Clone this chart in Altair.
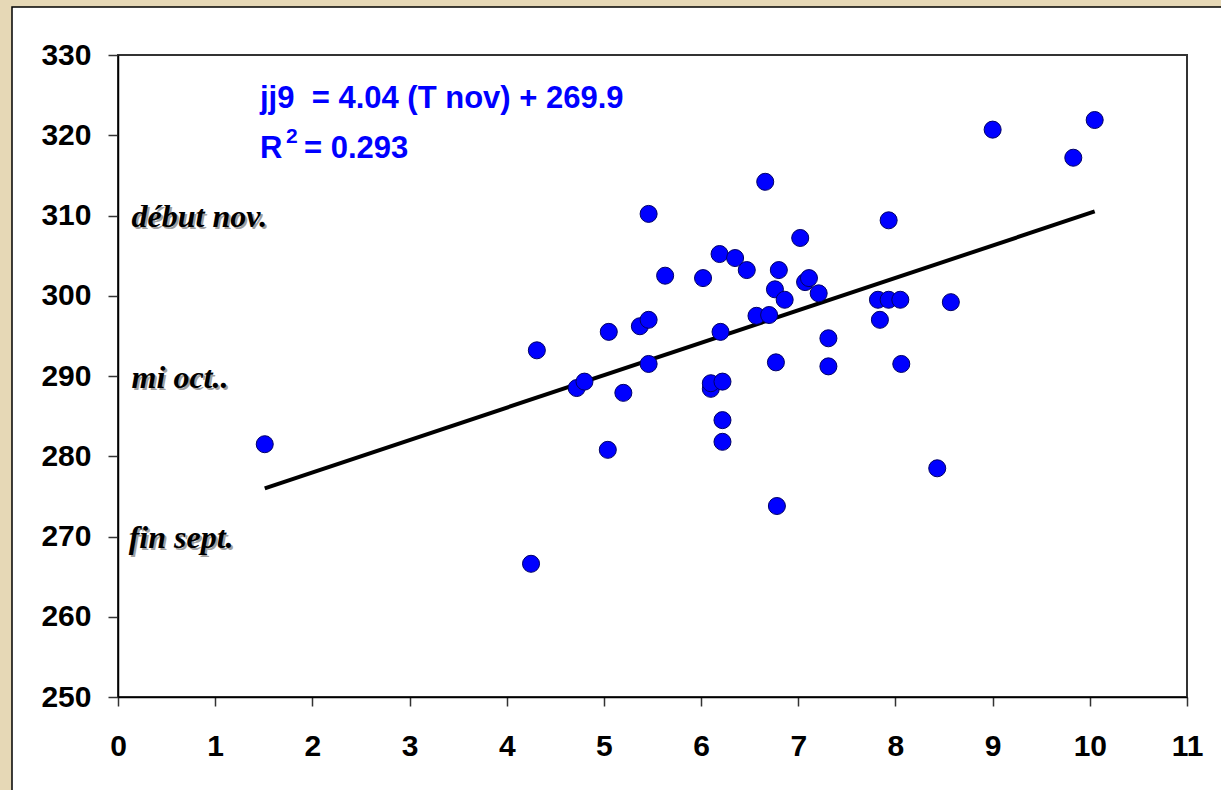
import altair as alt
import pandas as pd

# Data
t_nov = [1.51, 4.25, 4.31, 4.72, 4.80, 5.05, 5.04, 5.20, 5.37, 5.46, 5.46, 5.46, 5.63, 6.02, 6.10,
         6.10, 6.22, 6.20, 6.19, 6.22, 6.22, 6.35, 6.47, 6.66, 6.57, 6.70, 6.76, 6.77, 6.78, 6.80,
         6.86, 7.02, 7.07, 7.11, 7.21, 7.31, 7.31, 7.82, 7.84, 7.93, 7.93, 8.05, 8.06, 8.43, 8.57,
         9.00, 9.83, 10.05]
jj9 = [281.5, 266.6, 293.2, 288.5, 289.3, 295.5, 280.8, 287.9, 296.2, 297.0, 291.5, 310.2, 302.5,
       302.2, 288.4, 289.1, 289.3, 295.5, 305.2, 284.5, 281.8, 304.7, 303.2, 314.2, 297.5, 297.6,
       300.8, 291.7, 273.8, 303.2, 299.5, 307.2, 301.7, 302.2, 300.3, 294.7, 291.2, 299.5, 297.0,
       299.5, 309.4, 299.5, 291.5, 278.5, 299.2, 320.7, 317.2, 321.9]
slope = 4.04
intercept = 269.9
period_labels = ["début nov.", "mi oct..", "fin sept."]
period_y = [308.6, 288.5, 268.6]
period_x = [0.14, 0.14, 0.11]
x_ticks = [i * 0.5 for i in range(23)]
y_ticks = list(range(250, 331, 10))

W, H = 1069, 642
LEFT, TOP = 118, 55

pts = pd.DataFrame({"T": t_nov, "jj9": jj9})
xmin, xmax = min(t_nov), max(t_nov)
line_df = pd.DataFrame({"T": [xmin, xmax], "jj9": [slope * xmin + intercept, slope * xmax + intercept]})
lab_df = pd.DataFrame({"T": period_x, "jj9": period_y, "txt": period_labels})

xscale = alt.Scale(domain=[0, 11], nice=False, zero=False)
yscale = alt.Scale(domain=[250, 330], nice=False, zero=False)

xaxis = alt.Axis(values=x_ticks, format="d",
                 labelExpr="datum.value % 1 == 0 ? datum.label : ''",
                 title=None, grid=False, tickSize=9, labelPadding=25, labelFontSize=30,
                 labelFontWeight="bold", labelFont="Liberation Sans", labelColor="black",
                 domainColor="black", domainWidth=1.5, tickColor="#333", tickWidth=1.5,
                 labelFlush=False, labelOverlap=False, zindex=1)
yaxis = alt.Axis(values=y_ticks, title=None, grid=False, tickSize=10, labelPadding=17,
                 labelFontSize=30, labelFontWeight="bold", labelFont="Liberation Sans",
                 labelColor="black", domainColor="black", domainWidth=1.5, tickColor="#333",
                 tickWidth=1.5, labelFlush=False, labelOverlap=False, zindex=1)

# white card behind everything (decoration)
card = alt.Chart(pd.DataFrame({"a": [0]})).mark_rect(
    fill="white", stroke="black", strokeWidth=1.5, clip=False
).encode(x=alt.value(12 - LEFT), x2=alt.value(1221 - LEFT + 20),
         y=alt.value(7 - TOP), y2=alt.value(790 - TOP + 20))

frame = alt.Chart(pd.DataFrame({"a": [0]})).mark_rect(
    fill=None, stroke="#333", strokeWidth=2
).encode(x=alt.value(0), x2=alt.value(W), y=alt.value(0), y2=alt.value(H))

line = alt.Chart(line_df).mark_line(color="black", strokeWidth=4).encode(
    x=alt.X("T:Q", scale=xscale, axis=xaxis),
    y=alt.Y("jj9:Q", scale=yscale, axis=yaxis),
)

points = alt.Chart(pts).mark_point(
    shape="circle", filled=True, fill="#0000ff", stroke="#000066", strokeWidth=1,
    size=290, opacity=1
).encode(x=alt.X("T:Q", scale=xscale), y=alt.Y("jj9:Q", scale=yscale))

shadow = alt.Chart(lab_df).mark_text(
    align="left", baseline="alphabetic", font="Liberation Serif", fontSize=32,
    fontStyle="italic", fontWeight="bold", color="#a0a0a0", dx=2, dy=2
).encode(x=alt.X("T:Q", scale=xscale), y=alt.Y("jj9:Q", scale=yscale), text="txt:N")
labels = alt.Chart(lab_df).mark_text(
    align="left", baseline="alphabetic", font="Liberation Serif", fontSize=32,
    fontStyle="italic", fontWeight="bold", color="black"
).encode(x=alt.X("T:Q", scale=xscale), y=alt.Y("jj9:Q", scale=yscale), text="txt:N")

eq_style = dict(align="left", baseline="alphabetic", font="Liberation Sans",
                fontWeight="bold", color="#0000ff")
one = pd.DataFrame({"a": [0]})
eq1 = alt.Chart(one).mark_text(fontSize=31, text="jj9\u00a0 = 4.04 (T nov) + 269.9", **eq_style).encode(
    x=alt.value(260 - LEFT), y=alt.value(108 - TOP))
eq2 = alt.Chart(one).mark_text(fontSize=31, text="R", **eq_style).encode(
    x=alt.value(260 - LEFT), y=alt.value(158 - TOP))
eq3 = alt.Chart(one).mark_text(fontSize=21, text="2", **eq_style).encode(
    x=alt.value(286 - LEFT), y=alt.value(143 - TOP))
eq4 = alt.Chart(one).mark_text(fontSize=31, text="= 0.293", **eq_style).encode(
    x=alt.value(304 - LEFT), y=alt.value(158 - TOP))

chart = alt.layer(card, frame, line, points, shadow, labels, eq1, eq2, eq3, eq4).properties(
    width=W, height=H,
    autosize=alt.AutoSizeParams(type="none"),
    padding={"left": LEFT, "top": TOP, "right": 1221 - LEFT - W, "bottom": 790 - TOP - H},
    background="#e6d8b6",
).configure_view(stroke=None)

chart.save("out.html", embed_options={"renderer": "svg", "actions": False})
